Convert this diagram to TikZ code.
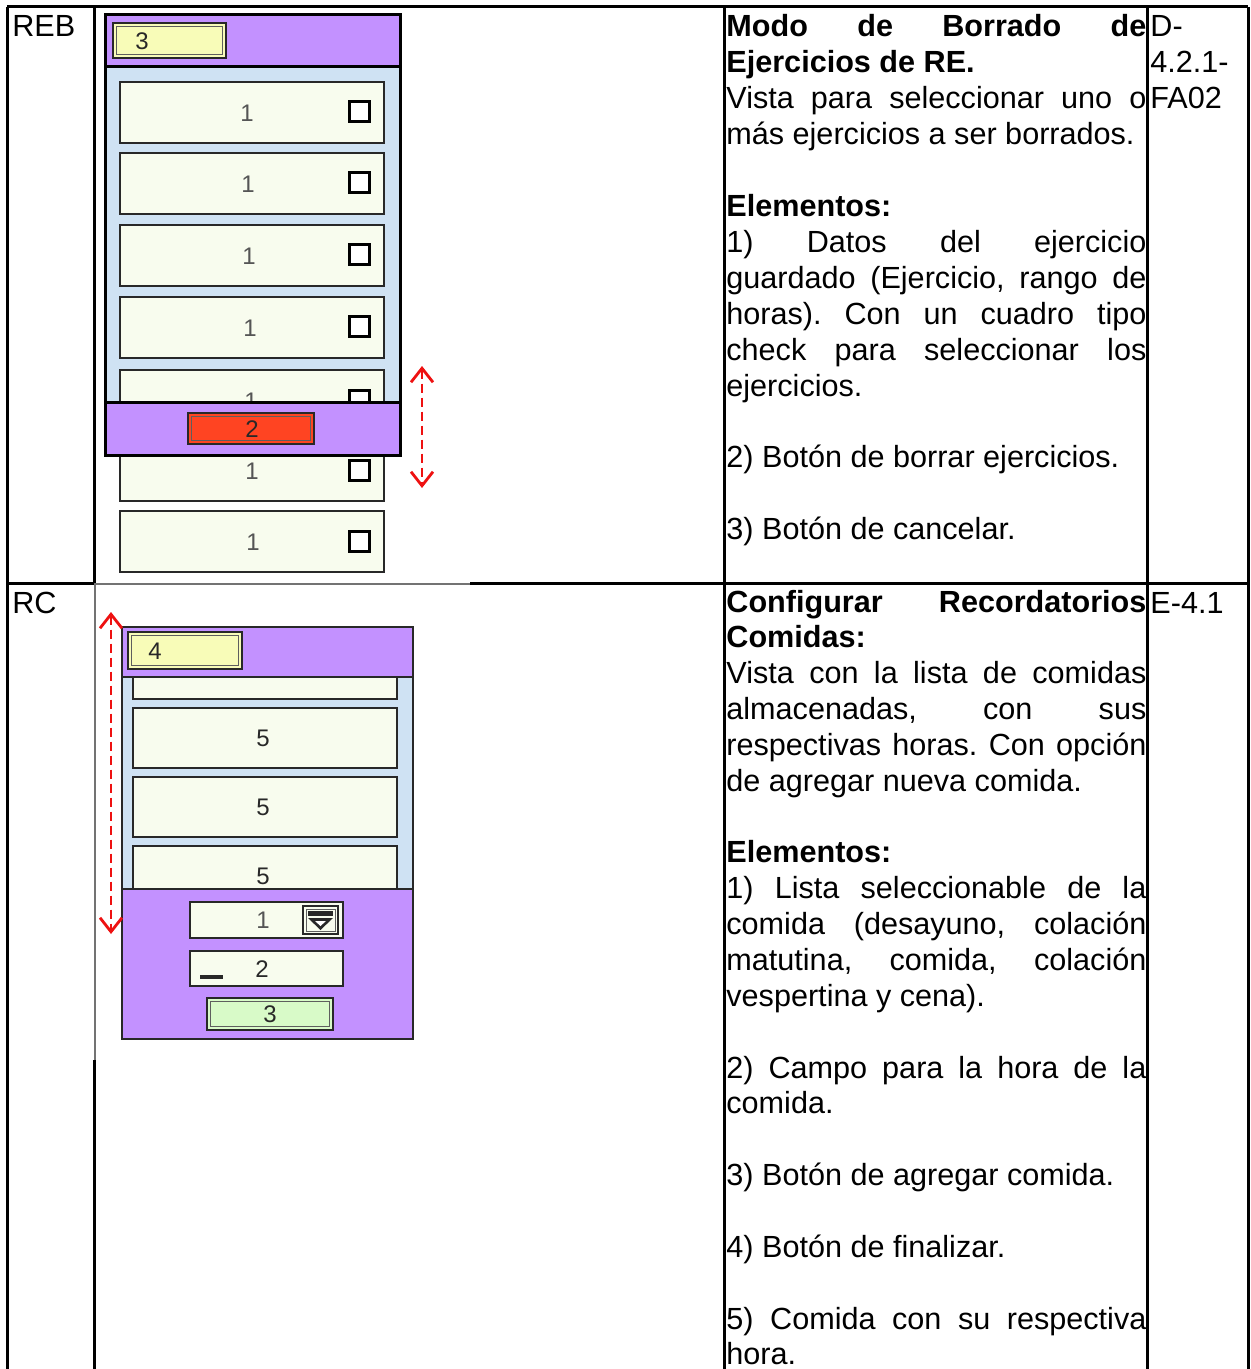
\documentclass[tikz,border=0pt]{standalone}
\usepackage{fontspec}
\setmainfont{Liberation Sans}
\usetikzlibrary{arrows.meta}
\definecolor{purp}{RGB}{195,145,255}
\definecolor{lblue}{RGB}{207,226,243}
\definecolor{cream}{RGB}{248,252,238}
\definecolor{lyel}{RGB}{248,252,184}
\definecolor{redb}{RGB}{255,68,34}
\definecolor{lgreen}{RGB}{216,250,200}
\definecolor{arrowred}{RGB}{238,17,17}
\definecolor{dk}{RGB}{40,40,40}
\definecolor{dgrey}{RGB}{85,85,85}
\newcommand{\jline}[1]{\makebox[210pt][s]{#1}}
\frenchspacing
\begin{document}
\begin{tikzpicture}[x=0.5pt,y=-0.5pt,
  gridline/.style={line width=1.5pt, draw=black},
  thingrid/.style={line width=1pt, draw=black!55},
  tt/.style={anchor=base west, inner sep=0pt, font=\fontsize{15.3}{18}\selectfont},
  itembox/.style={fill=cream, draw=dk, line width=1pt},
  chkbox/.style={draw=black, line width=1.5pt, fill=white},
  frameA/.style={draw=black, line width=1.5pt},
  frameB/.style={draw=dk, line width=1.1pt},
  digit/.style={font=\fontsize{12}{14}\selectfont, text=dk, inner sep=0pt},
  btnout/.style={draw=dk, line width=0.9pt},
  btnin/.style={draw=dk!75, line width=0.5pt},
  redarrow/.style={draw=arrowred, line width=1.4pt, dash pattern=on 4.5pt off 2.5pt,
     {Straight Barb[length=7pt,width=11pt,line width=1.4pt]}-{Straight Barb[length=7pt,width=11pt,line width=1.4pt]}}
]
\useasboundingbox (0,0) rectangle (1250,1369);
\fill[white] (0,0) rectangle (1250,1369);

% ---------- Row 1 mockup (REB) ----------
\draw[frameA, fill=lblue] (105,67) rectangle (400,402);
\foreach \t [count=\i] in {82,153,225,297,370,440,511} {
  \draw[itembox] (120,\t) rectangle (384,\t+61);
  \node[digit, text=dgrey] (ra\i) at ({246+\i},\t+31) {1};
  \draw[chkbox] (349,\t+20) rectangle (369,\t+40);
}
\draw[frameA, fill=purp] (105,15) rectangle (400,67);
\draw[frameA, fill=purp] (105,402) rectangle (400,455);
% button 3
\draw[btnout, fill=lyel] (113,23) rectangle (226,58);
\draw[btnin] (116.5,26.5) rectangle (222.5,54.5);
\node[digit] (bthree) at (142,41) {3};
% button 2
\draw[btnout, fill=redb] (188,413) rectangle (314,444);
\draw[btnin] (191.5,416.5) rectangle (310.5,440.5);
\node[digit] (btwo) at (252,429) {2};
% scroll arrow
\coordinate (aonetop) at (422,366);
\coordinate (aonebot) at (422,488);
\draw[redarrow] (aonetop) -- (aonebot);

% ---------- Row 2 mockup (RC) ----------
\draw[frameB, fill=lblue] (122,677) rectangle (413,889);
\foreach \t [count=\i] in {639,708,777,846} {
  \draw[itembox] (133,\t) rectangle (397,\t+60);
  \node[digit] (rb\i) at (263,\t+30) {5};
}
\draw[frameB, fill=purp] (122,627) rectangle (413,677);
\draw[frameB, fill=purp] (122,889) rectangle (413,1039);
% button 4
\draw[btnout, fill=lyel] (128,632) rectangle (242,669);
\draw[btnin] (131.5,635.5) rectangle (238.5,665.5);
\node[digit] (bfour) at (155,651) {4};
% dropdown
\draw[btnout, fill=cream] (190,902) rectangle (343,938);
\node[digit, text=dgrey] (ddone) at (263,920) {1};
\draw[btnout, fill=cream] (303,906) rectangle (338,934);
\draw[btnin] (306,909) rectangle (335,931);
\fill[dk] (308,911) rectangle (333,916);
\fill[dk] (308,918) -- (333,918) -- (320.5,930) -- cycle;
\fill[white] (315,921) -- (326,921) -- (320.5,926) -- cycle;
% text field
\draw[btnout, fill=cream] (190,951) rectangle (343,986);
\node[digit] (tftwo) at (262,969) {2};
\draw[line width=1.8pt, draw=dk] (200,977) -- (223,977);
% green button
\draw[btnout, fill=lgreen] (207,998) rectangle (333,1030);
\draw[btnin] (210.5,1001.5) rectangle (329.5,1026.5);
\node[digit] (bgthree) at (270,1014) {3};
% scroll arrow
\coordinate (atwotop) at (111,612);
\coordinate (atwobot) at (111,934);
\draw[redarrow] (atwotop) -- (atwobot);

% ---------- Table text ----------
\node[tt] (lreb) at (12,37) {REB};
\node[tt] (lrc) at (12,613) {RC};
\node[tt] (cone) at (1150,37) {D-};
\node[tt] (ctwo) at (1150,72.9) {4.2.1-};
\node[tt] (cthree) at (1150,108.8) {FA02};
\node[tt] (cfour) at (1150,613) {E-4.1};

\foreach \k/\txt [count=\n] in {
  0/{\jline{\bfseries Modo de Borrado de}},
  1/{\textbf{Ejercicios de RE.}},
  2/{\jline{Vista para seleccionar uno o}},
  3/{más ejercicios a ser borrados.},
  5/{\textbf{Elementos:}},
  6/{\jline{1) Datos del ejercicio}},
  7/{\jline{guardado (Ejercicio, rango de}},
  8/{\jline{horas). Con un cuadro tipo}},
  9/{\jline{check para seleccionar los}},
  10/{ejercicios.},
  12/{2) Botón de borrar ejercicios.},
  14/{3) Botón de cancelar.}} {
  \node[tt] (da\n) at (726,{37+35.9*\k}) {\txt};
}
\foreach \k/\txt [count=\n] in {
  0/{\jline{\bfseries Configurar Recordatorios}},
  1/{\textbf{Comidas:}},
  2/{\jline{Vista con la lista de comidas}},
  3/{\jline{almacenadas, con sus}},
  4/{\jline{respectivas horas. Con opción}},
  5/{de agregar nueva comida.},
  7/{\textbf{Elementos:}},
  8/{\jline{1) Lista seleccionable de la}},
  9/{\jline{comida (desayuno, colación}},
  10/{\jline{matutina, comida, colación}},
  11/{vespertina y cena).},
  13/{\jline{2) Campo para la hora de la}},
  14/{comida.},
  16/{3) Botón de agregar comida.},
  18/{4) Botón de finalizar.},
  20/{\jline{5) Comida con su respectiva}},
  21/{hora.}} {
  \node[tt] (db\n) at (726,{612+35.85*\k}) {\txt};
}

% ---------- Table grid ----------
\draw[gridline] (7,7) -- (1248,7);
\draw[gridline] (7,583) -- (94,583);
\draw[thingrid] (94,584) -- (470,584);
\draw[gridline] (470,583) -- (1248,583);
\draw[gridline] (7,7) -- (7,1369);
\draw[gridline] (94,7) -- (94,583);
\draw[thingrid] (95,583) -- (95,1060);
\draw[gridline] (94,1060) -- (94,1369);
\draw[gridline] (724,7) -- (724,1369);
\draw[gridline] (1147,7) -- (1147,1369);
\draw[gridline] (1248,7) -- (1248,1369);
\end{tikzpicture}
\end{document}
